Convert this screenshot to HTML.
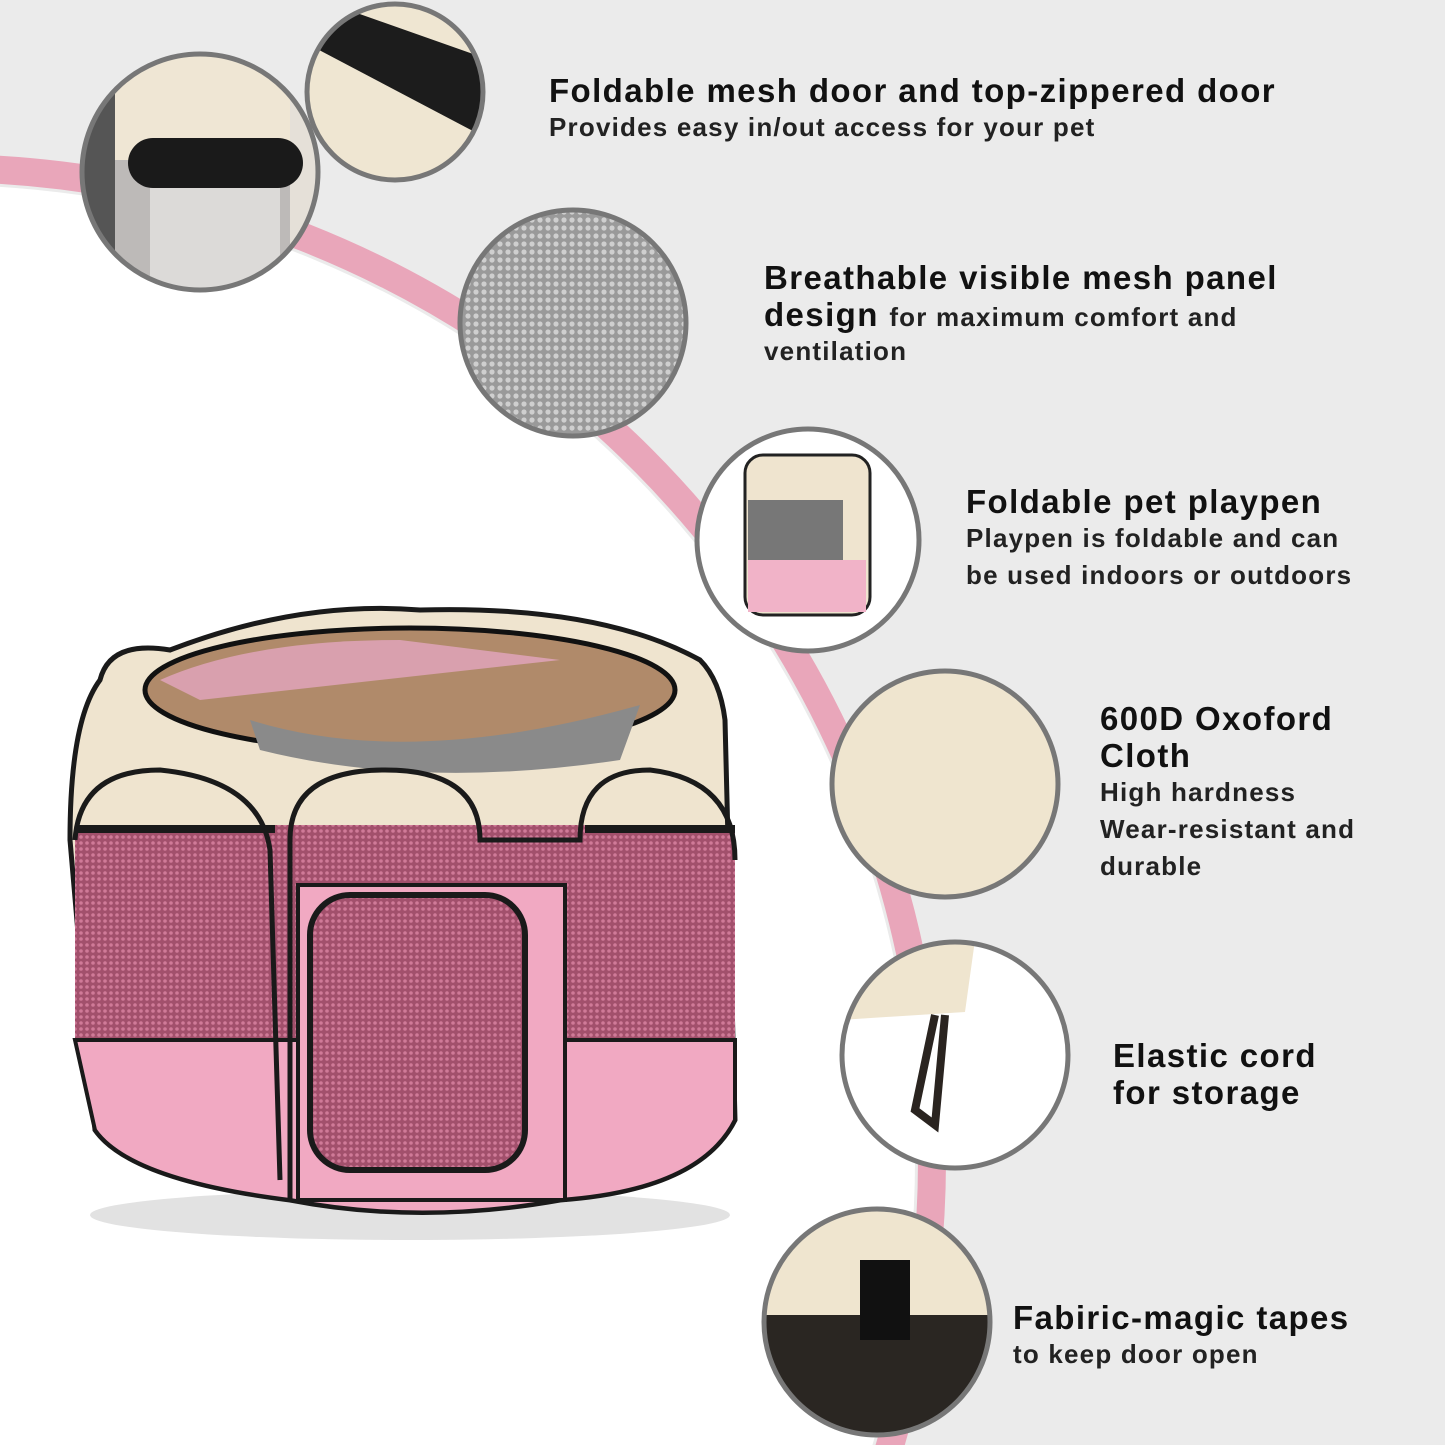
<!DOCTYPE html>
<html><head><meta charset="utf-8"><style>
html,body{margin:0;padding:0;overflow:hidden;width:1445px;height:1445px}
body{position:relative;background:#ebebeb;font-family:"Liberation Sans",sans-serif;color:#111}
.t{position:absolute;font-weight:bold;font-size:33px;line-height:37px;letter-spacing:1.4px;white-space:nowrap}
.t div{height:37px}
.s{font-size:26px;font-weight:bold;color:#222;letter-spacing:1.2px}
</style></head><body>
<svg width="1445" height="1445" style="position:absolute;left:0;top:0">
<defs>
<pattern id="mesh" width="8" height="8" patternUnits="userSpaceOnUse"><rect width="8" height="8" fill="#9a9a9a"/><circle cx="4" cy="4" r="2.6" fill="#cfcfcf"/></pattern>
<pattern id="mesh2" width="6" height="6" patternUnits="userSpaceOnUse"><rect width="6" height="6" fill="#a2506c"/><circle cx="3" cy="3" r="1.8" fill="#d07a98"/></pattern>
<clipPath id="c1"><circle cx="200" cy="172" r="118"/></clipPath>
<clipPath id="c2"><circle cx="395" cy="92" r="88"/></clipPath>
<clipPath id="c4"><circle cx="808" cy="540" r="111"/></clipPath>
<clipPath id="c6"><circle cx="955" cy="1055" r="113"/></clipPath>
<clipPath id="c7"><circle cx="877" cy="1322" r="113"/></clipPath>
</defs>
<circle cx="-60" cy="1160" r="975" fill="#fff"/>
<circle cx="-60" cy="1160" r="992" fill="none" stroke="#e9a6ba" stroke-width="28"/>
<g clip-path="url(#c1)"><rect x="80" y="50" width="240" height="245" fill="#e5e0d8"/><rect x="110" y="50" width="180" height="110" fill="#efe6d4"/><rect x="110" y="160" width="180" height="135" fill="#bdbab8"/><rect x="150" y="160" width="130" height="135" fill="#dcdad8"/><rect x="128" y="138" width="175" height="50" rx="25" fill="#1a1a1a"/><rect x="80" y="50" width="35" height="245" fill="#555"/></g>
<circle cx="200" cy="172" r="118" fill="none" stroke="#777" stroke-width="5"/>
<g clip-path="url(#c2)"><rect x="300" y="0" width="190" height="190" fill="#efe6d2"/><polygon points="300,40 320,0 490,60 490,140" fill="#1c1c1c"/></g>
<circle cx="395" cy="92" r="88" fill="none" stroke="#777" stroke-width="5"/>
<circle cx="573" cy="323" r="113" fill="url(#mesh)"/>
<circle cx="573" cy="323" r="113" fill="none" stroke="#777" stroke-width="5"/>
<g clip-path="url(#c4)"><rect x="690" y="420" width="240" height="240" fill="#fff"/><rect x="745" y="455" width="125" height="160" rx="18" fill="#efe4cf" stroke="#222" stroke-width="3"/><rect x="748" y="500" width="95" height="60" fill="#777"/><rect x="748" y="560" width="118" height="52" fill="#f1b3c8"/></g>
<circle cx="808" cy="540" r="111" fill="none" stroke="#777" stroke-width="5"/>
<circle cx="945" cy="784" r="113" fill="#efe5cf"/>
<circle cx="945" cy="784" r="113" fill="none" stroke="#777" stroke-width="5"/>
<g clip-path="url(#c6)"><rect x="840" y="940" width="230" height="230" fill="#fff"/><polygon points="840,940 975,940 965,1012 840,1020" fill="#efe5cf"/><path d="M935 1015 L915 1110 L935 1125 L945 1015" fill="none" stroke="#2a2420" stroke-width="8"/></g>
<circle cx="955" cy="1055" r="113" fill="none" stroke="#777" stroke-width="5"/>
<g clip-path="url(#c7)"><rect x="760" y="1205" width="235" height="235" fill="#2a2622"/><rect x="760" y="1205" width="235" height="110" fill="#efe5cf"/><rect x="860" y="1260" width="50" height="80" fill="#111"/></g>
<circle cx="877" cy="1322" r="113" fill="none" stroke="#777" stroke-width="5"/>
<ellipse cx="410" cy="1215" rx="320" ry="25" fill="#e2e2e2"/>
<path d="M100 680 Q110 640 170 650 Q300 600 420 610 Q600 605 700 660 Q720 680 725 720 L735 1120 Q700 1190 560 1200 Q420 1225 290 1200 Q130 1180 95 1130 L70 840 Q70 720 100 680 Z" fill="#efe4cf" stroke="#1a1a1a" stroke-width="5"/>
<ellipse cx="410" cy="690" rx="265" ry="62" fill="#b08a6a" stroke="#111" stroke-width="5"/>
<path d="M160 680 Q250 640 400 640 L560 660 L200 700 Z" fill="#d9a0ae"/>
<path d="M250 720 Q410 770 640 705 L620 760 Q420 790 260 750 Z" fill="#8a8a8a"/>
<rect x="75" y="825" width="660" height="220" fill="url(#mesh2)"/>
<path d="M75 1040 L735 1040 L735 1120 Q700 1190 560 1200 Q420 1225 290 1200 Q130 1180 95 1130 Z" fill="#f1a9c2" stroke="#1a1a1a" stroke-width="4"/>
<path d="M290 1200 L290 840 Q290 770 385 770 Q480 770 480 840 L580 840 Q580 770 650 770 Q735 780 735 860" fill="none" stroke="#1a1a1a" stroke-width="5"/>
<path d="M298 885 L565 885 L565 1200 L298 1200 Z" fill="#f1a9c2" stroke="#1a1a1a" stroke-width="4"/>
<rect x="310" y="895" width="215" height="275" rx="40" fill="url(#mesh2)" stroke="#1a1a1a" stroke-width="6"/>
<path d="M75 840 Q80 770 160 770 Q260 780 270 850 L280 1180" fill="none" stroke="#1a1a1a" stroke-width="5"/>
<rect x="75" y="825" width="200" height="8" fill="#1a1a1a"/>
<rect x="585" y="825" width="150" height="8" fill="#1a1a1a"/>
</svg>
<div class="t" style="left:549px;top:72px"><div>Foldable mesh door and top-zippered door</div><div class="s">Provides easy in/out access for your pet</div></div>
<div class="t" style="left:764px;top:259px"><div>Breathable visible mesh panel</div><div>design <span class="s">for maximum comfort and</span></div><div class="s">ventilation</div></div>
<div class="t" style="left:966px;top:483px"><div>Foldable pet playpen</div><div class="s">Playpen is foldable and can</div><div class="s">be used indoors or outdoors</div></div>
<div class="t" style="left:1100px;top:700px"><div>600D Oxoford</div><div>Cloth</div><div class="s">High hardness</div><div class="s">Wear-resistant and</div><div class="s">durable</div></div>
<div class="t" style="left:1113px;top:1037px"><div>Elastic cord</div><div>for storage</div></div>
<div class="t" style="left:1013px;top:1299px"><div>Fabiric-magic tapes</div><div class="s">to keep door open</div></div>
</body></html>
